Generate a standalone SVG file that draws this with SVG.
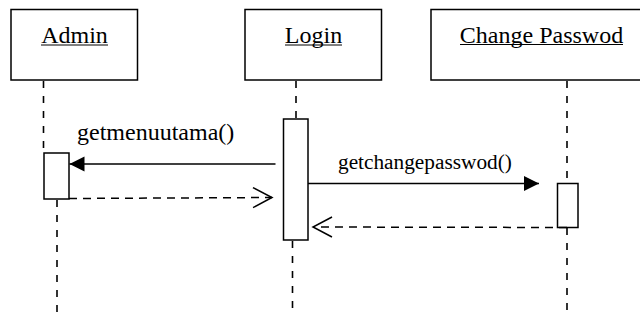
<svg xmlns="http://www.w3.org/2000/svg" width="640" height="320" viewBox="0 0 640 320">
  <style>
    .box { fill: #ffffff; stroke: #000000; stroke-width: 1.5; }
    .act { fill: #ffffff; stroke: #000000; stroke-width: 1.5; }
    .life { fill: none; stroke: #000000; stroke-width: 1.6; stroke-dasharray: 7 8; }
    .title { font-family: "Liberation Serif", "Times New Roman", serif; font-size: 24px; fill: #000000; text-anchor: middle; }
    .uline { stroke: #000000; stroke-width: 1; }
    .msg { font-family: "Liberation Serif", "Times New Roman", serif; fill: #000000; }
    .call { fill: none; stroke: #000000; stroke-width: 1.5; marker-end: url(#filled); }
    .ret { fill: none; stroke: #000000; stroke-width: 1.5; stroke-dasharray: 8 6; marker-end: url(#open); }
  </style>
  <defs>
    <marker id="filled" markerUnits="userSpaceOnUse" markerWidth="16" markerHeight="16" refX="15" refY="7.5" orient="auto" overflow="visible">
      <path d="M0,0 L15,7.5 L0,15 z" fill="#000000"/>
    </marker>
    <marker id="open" markerUnits="userSpaceOnUse" markerWidth="22" markerHeight="22" refX="19" refY="10" orient="auto" overflow="visible">
      <path d="M0,0 L19,10 L0,20" fill="none" stroke="#000000" stroke-width="1.5"/>
    </marker>
  </defs>
  <rect width="640" height="320" fill="#ffffff"/>

  <g id="admin">
    <rect class="box" x="11" y="9.5" width="126.5" height="70.5"/>
    <text class="title" x="74.5" y="42.5">Admin</text>
    <line class="uline" x1="41" y1="45" x2="108" y2="45"/>
    <line class="life" x1="43.5" y1="81" x2="43.5" y2="153"/>
    <line class="life" x1="57" y1="200" x2="57" y2="320"/>
    <rect class="act" x="44" y="153" width="25" height="46"/>
  </g>

  <g id="login">
    <rect class="box" x="245" y="9.5" width="136.5" height="70.5"/>
    <text class="title" x="313.5" y="42.5">Login</text>
    <line class="uline" x1="285" y1="45" x2="342" y2="45"/>
    <line class="life" x1="296" y1="81" x2="296" y2="119"/>
    <line class="life" x1="292.5" y1="241" x2="292.5" y2="313"/>
    <rect class="act" x="283.5" y="119" width="24.5" height="121"/>
  </g>

  <g id="change-passwod">
    <rect class="box" x="431" y="9.5" width="222" height="70.5"/>
    <text class="title" x="541.5" y="42.5">Change Passwod</text>
    <line class="uline" x1="460" y1="44.5" x2="623" y2="44.5"/>
    <line class="life" x1="567" y1="81" x2="567" y2="183.5"/>
    <line class="life" x1="567" y1="228" x2="567" y2="316"/>
    <rect class="act" x="557.5" y="183.5" width="20.5" height="44"/>
  </g>

  <g id="connectors">
    <line class="call" x1="275.5" y1="164" x2="69.5" y2="164"/>
    <text class="msg" x="77" y="140" font-size="24">getmenuutama()</text>
    <line class="ret" x1="69" y1="198.5" x2="272" y2="197.5"/>
    <line class="call" x1="308" y1="183.5" x2="539" y2="183.5"/>
    <text class="msg" x="338" y="168.5" font-size="21.3">getchangepasswod()</text>
    <line class="ret" x1="567" y1="227.5" x2="313" y2="227"/>
  </g>
</svg>
